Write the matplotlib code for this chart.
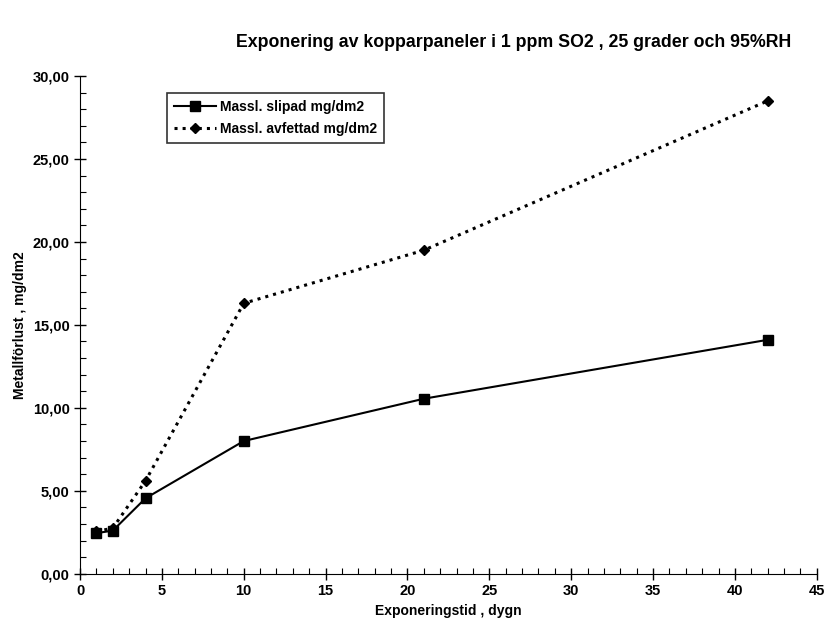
import matplotlib.pyplot as plt
from matplotlib.ticker import MultipleLocator, FuncFormatter

plt.rcParams["font.family"] = ["Liberation Sans", "DejaVu Sans"]

days = [1, 2, 4, 10, 21, 42]
slipad = [2.45, 2.6, 4.55, 8.0, 10.55, 14.1]
avfettad = [2.55, 2.75, 5.6, 16.3, 19.5, 28.5]

fig = plt.figure(figsize=(8.25, 6.23), dpi=100)
ax = fig.add_axes([0.097, 0.079, 0.893, 0.799])

ax.plot(days, slipad, "-", color="black", lw=1.5, marker="s", ms=7,
        label="Massl. slipad mg/dm2")
ax.plot(days, avfettad, ":", color="black", lw=2.2, marker="D", ms=5.5,
        label="Massl. avfettad mg/dm2")

ax.set_xlim(0, 45)
ax.set_ylim(0, 30)
ax.xaxis.set_major_locator(MultipleLocator(5))
ax.xaxis.set_minor_locator(MultipleLocator(1))
ax.yaxis.set_major_locator(MultipleLocator(5))
ax.yaxis.set_minor_locator(MultipleLocator(1))
ax.yaxis.set_major_formatter(FuncFormatter(lambda v, p: f"{v:.2f}".replace(".", ",")))

for s in ["top", "right"]:
    ax.spines[s].set_visible(False)
ax.tick_params(which="major", direction="inout", length=8, width=1, labelsize=10.5)
ax.tick_params(which="minor", direction="in", length=4, width=0.8)
for lab in ax.get_xticklabels() + ax.get_yticklabels():
    lab.set_fontweight("bold")

ax.set_xlabel("Exponeringstid , dygn", fontsize=10, fontweight="bold")
ax.set_ylabel("Metallförlust , mg/dm2", fontsize=10, fontweight="bold")
fig.text(0.622, 0.931, "Exponering av kopparpaneler i 1 ppm SO2 , 25 grader och 95%RH",
         ha="center", va="center", fontsize=12.8, fontweight="bold")

leg = ax.legend(loc="upper left", bbox_to_anchor=(0.109, 0.98), frameon=True,
                fancybox=False, edgecolor="black", prop={"size": 10, "weight": "bold"},
                handlelength=3, borderpad=0.5, labelspacing=0.6, handletextpad=0.3)
leg.get_frame().set_linewidth(1.2)

fig.savefig("out.png", dpi=100)
